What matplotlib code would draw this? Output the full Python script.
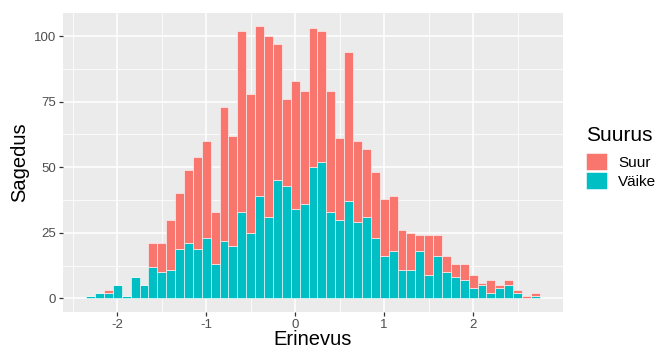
import numpy as np
import matplotlib.pyplot as plt
from matplotlib.patches import Patch

plt.rcParams["font.family"] = ["Liberation Sans", "DejaVu Sans"]
plt.rcParams["axes.unicode_minus"] = False

# Histogram bins (width 0.1), centres from -2.3 to 2.7
bin_centres = np.round(np.arange(-2.3, 2.75, 0.1), 1)

vaike = [1, 2, 2, 5, 1, 8, 5, 12, 10, 11,
         19, 21, 19, 23, 13, 22, 20, 33, 25, 39,
         31, 45, 43, 34, 36, 50, 52, 33, 30, 37,
         29, 31, 23, 16, 18, 11, 11, 18, 9, 16,
         10, 8, 7, 4, 5, 2, 4, 5, 2, 0, 1]
suur = [0, 0, 1, 0, 0, 0, 0, 9, 11, 19,
        21, 28, 35, 37, 20, 51, 42, 69, 53, 65,
        69, 52, 33, 49, 43, 53, 50, 46, 31, 57,
        31, 26, 25, 22, 21, 15, 14, 6, 15, 8,
        6, 5, 6, 5, 1, 5, 1, 2, 1, 1, 1]

red = "#F8766D"
teal = "#00BFC4"

fig = plt.figure(figsize=(6.57, 3.49), dpi=100)
ax = fig.add_axes([63 / 657, 37 / 349, 500 / 657, 299.3 / 349])
ax.set_facecolor("#EBEBEB")

ax.bar(bin_centres, vaike, width=0.1, color=teal, edgecolor="white",
       linewidth=0.4, zorder=3)
ax.bar(bin_centres, suur, width=0.1, bottom=vaike, color=red,
       edgecolor="white", linewidth=0.4, zorder=3)

ax.set_xlim(-2.61, 3.01)
ax.set_ylim(-5.2, 108.9)
ax.set_xticks([-2, -1, 0, 1, 2])
ax.set_yticks([0, 25, 50, 75, 100])
ax.set_xticks([-2.5, -1.5, -0.5, 0.5, 1.5, 2.5], minor=True)
ax.set_yticks([12.5, 37.5, 62.5, 87.5], minor=True)
ax.grid(which="major", color="white", linewidth=1.1, zorder=0)
ax.grid(which="minor", color="white", linewidth=0.55, zorder=0)
ax.tick_params(which="major", length=3, width=0.9, color="#333333",
               labelcolor="#4D4D4D", labelsize=9.5, pad=2)
ax.tick_params(which="minor", length=0)
for s in ax.spines.values():
    s.set_visible(False)

# axis titles
fig.text(313 / 657, 1 - 345 / 349, "Erinevus", fontsize=14.5,
         ha="center", va="baseline")
ax.set_ylabel("Sagedus", fontsize=14.5, labelpad=3)

# legend: title drawn as its own text, keys below it
fig.text(586 / 657, 1 - 140.7 / 349, "Suurus", fontsize=15,
         va="baseline", ha="left")
handles = [Patch(facecolor=red, edgecolor="white", linewidth=0.4),
           Patch(facecolor=teal, edgecolor="white", linewidth=0.4)]
fig.legend(handles, ["Suur", "Väike"], loc="upper left",
           bbox_to_anchor=(586 / 657, 1 - 153.3 / 349),
           frameon=False, fontsize=11,
           handlelength=1.35, handleheight=1.35, handletextpad=0.75,
           labelspacing=0.12, borderpad=0, borderaxespad=0)

fig.savefig("out.png", dpi=100)
